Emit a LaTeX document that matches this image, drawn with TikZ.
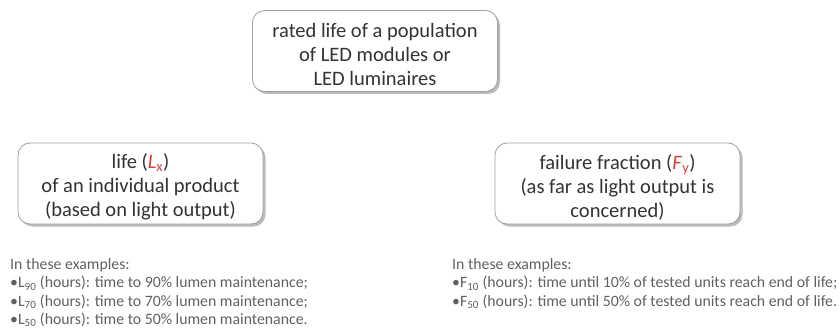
\documentclass[tikz,border=0pt]{standalone}
\usepackage{fontspec}
\setmainfont{Carlito}
\usetikzlibrary{shadows}
\definecolor{txt}{HTML}{333333}
\definecolor{small}{HTML}{606060}
\definecolor{boxline}{HTML}{A0A0A0}
\definecolor{redL}{HTML}{E03C3C}
\newcommand{\dropline}{\rule{0pt}{22pt}}
\tikzset{
  box/.style={draw=boxline, line width=0.8pt, rounded corners=12pt, fill=white,
    minimum width=245pt, minimum height=81pt, align=center, text=txt,
    font=\fontsize{20.5}{24}\selectfont,
    drop shadow={shadow xshift=2.5pt, shadow yshift=-2.5pt, opacity=0.45, fill=black!60}},
  note/.style={anchor=north west, align=left, text=small, inner sep=0pt,
    font=\fontsize{15.8}{18.3}\selectfont}
}
\begin{document}
\begin{tikzpicture}[x=1pt,y=-1pt]
\useasboundingbox (0,0) rectangle (839,329);
\node[box] (top) at (375,51) {\dropline rated life of a population\\of LED modules or\\LED luminaires};
\node[box] (life) at (140.5,183.5) {\dropline life ({\color{redL}\textit{L}\textsubscript{x}})\\of an individual product\\(based on light output)};
\node[box] (fail) at (617.5,183.5) {\dropline failure fraction ({\color{redL}\textit{F}\textsubscript{y}})\\(as far as light output is\\concerned)};
\node[note] (lnote) at (10,258.5) {In these examples:\\
•L\textsubscript{90} (hours): time to 90\% lumen maintenance;\\
•L\textsubscript{70} (hours): time to 70\% lumen maintenance;\\
•L\textsubscript{50} (hours): time to 50\% lumen maintenance.};
\node[note] (fnote) at (452,258.5) {In these examples:\\
•F\textsubscript{10} (hours): time until 10\% of tested units reach end of life;\\
•F\textsubscript{50} (hours): time until 50\% of tested units reach end of life.};
\end{tikzpicture}
\end{document}
